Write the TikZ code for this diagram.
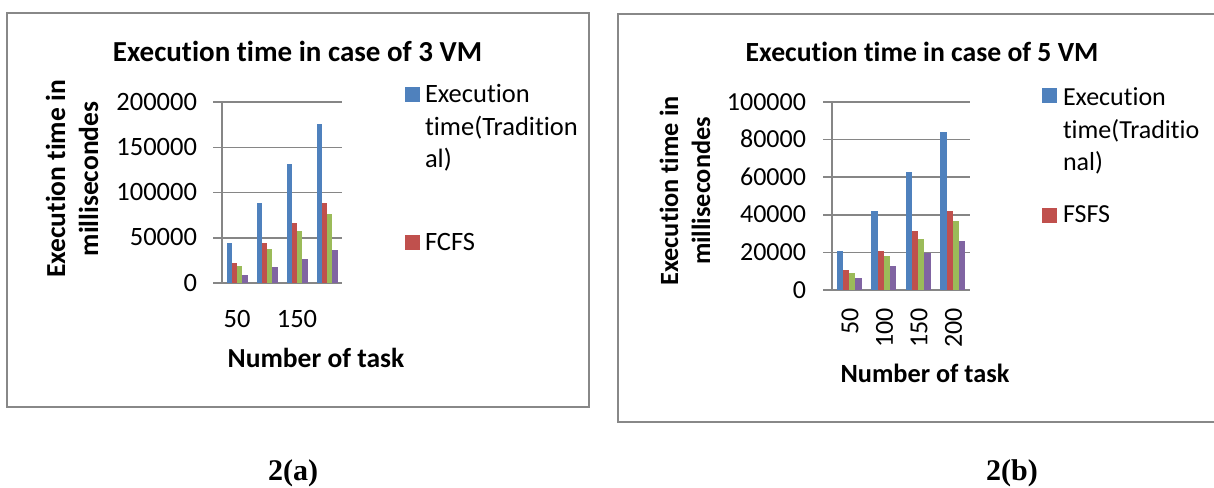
\documentclass[tikz,border=0pt]{standalone}
\usepackage{fontspec}
\setmainfont{Carlito}[RawFeature={-liga}]
\newfontfamily\capfont{Liberation Serif}
\definecolor{cblue}{HTML}{4F81BD}
\definecolor{cred}{HTML}{C0504D}
\definecolor{cgreen}{HTML}{9BBB59}
\definecolor{cpurple}{HTML}{8064A2}
\definecolor{cgrid}{HTML}{868686}
\definecolor{cframe}{HTML}{888888}
\begin{document}
\begin{tikzpicture}[x=1pt,y=-1pt,
  txt/.style={inner sep=0pt, outer sep=0pt},
  ttlA/.style={txt, font=\fontsize{29}{34}\selectfont\bfseries},
  ttlB/.style={txt, font=\fontsize{27.7}{33}\selectfont\bfseries},
  axA/.style={txt, font=\fontsize{27.5}{33}\selectfont\bfseries},
  axB/.style={txt, font=\fontsize{26.3}{32}\selectfont\bfseries},
  tickA/.style={txt, font=\fontsize{26.5}{32}\selectfont},
  tickB/.style={txt, font=\fontsize{26}{32}\selectfont},
  captxt/.style={txt, font=\fontsize{30}{36}\selectfont\capfont\bfseries},
  gridline/.style={cgrid, line width=1.5pt},
  framebox/.style={cframe, line width=1.8pt}
  ]
\useasboundingbox (0,0) rectangle (1214,487);
\fill[white] (0,0) rectangle (1214,487);

% ---------- Chart 2(a) ----------
\draw[framebox] (7,13) rectangle (589,407);
\foreach \k in {0,...,4} {
  \draw[gridline] (213,{283-45.25*\k}) -- (342,{283-45.25*\k});
}
\draw[gridline] (222,102) -- (222,283);
\foreach \s/\g/\v/\col in {0/0/44/cblue,0/1/88/cblue,0/2/132/cblue,0/3/176/cblue,
  1/0/22/cred,1/1/44/cred,1/2/66/cred,1/3/88/cred,
  2/0/19/cgreen,2/1/38/cgreen,2/2/57/cgreen,2/3/76/cgreen,
  3/0/9/cpurple,3/1/18/cpurple,3/2/27/cpurple,3/3/36/cpurple} {
  \fill[\col] ({222+30*\g+4.5+5.25*\s},283) rectangle ++(5.25,{-\v*0.905});
}
\node[ttlA, anchor=base] (tA) at (297.5,61) {Execution time in case of 3 VM};
\node[tickA, anchor=base east] (ya0) at (197,291) {0};
\node[tickA, anchor=base east] (ya1) at (197,245.75) {50000};
\node[tickA, anchor=base east] (ya2) at (197,200.5) {100000};
\node[tickA, anchor=base east] (ya3) at (197,155.25) {150000};
\node[tickA, anchor=base east] (ya4) at (197,110) {200000};
\node[tickA, anchor=base] (xa1) at (237,327) {50};
\node[tickA, anchor=base] (xa3) at (297,327) {150};
\node[axA, anchor=base] (xta) at (316,367) {Number of task};
\node[axA, rotate=90, align=center] (yta) at (72,179) {Execution time in\\millisecondes};
\fill[cblue] (405,87) rectangle (420,102);
\node[tickA, anchor=base west] (la1) at (425,102) {Execution};
\node[tickA, anchor=base west] (la2) at (425,135) {time(Tradition};
\node[tickA, anchor=base west] (la3) at (425,167) {al)};
\fill[cred] (405,235) rectangle (420,250);
\node[tickA, anchor=base west] (la4) at (425,250) {FCFS};

% ---------- Chart 2(b) ----------
\draw[framebox] (1216,14) -- (618,14) -- (618,422) -- (1216,422);
\foreach \k in {0,...,5} {
  \draw[gridline] (823,{290-37.6*\k}) -- (970,{290-37.6*\k});
}
\draw[gridline] (832,102) -- (832,290);
\foreach \s/\g/\v/\col in {0/0/21/cblue,0/1/42/cblue,0/2/63/cblue,0/3/84/cblue,
  1/0/10.5/cred,1/1/21/cred,1/2/31.5/cred,1/3/42/cred,
  2/0/9/cgreen,2/1/18/cgreen,2/2/27/cgreen,2/3/36.5/cgreen,
  3/0/6.5/cpurple,3/1/13/cpurple,3/2/19.5/cpurple,3/3/26/cpurple} {
  \fill[\col] ({832+34.5*\g+4.85+6.2*\s},290) rectangle ++(6.2,{-\v*1.88});
}
\node[ttlB, anchor=base] (tB) at (922,61) {Execution time in case of 5 VM};
\node[tickB, anchor=base east] (yb0) at (806,298) {0};
\node[tickB, anchor=base east] (yb1) at (806,260.4) {20000};
\node[tickB, anchor=base east] (yb2) at (806,222.8) {40000};
\node[tickB, anchor=base east] (yb3) at (806,185.2) {60000};
\node[tickB, anchor=base east] (yb4) at (806,147.6) {80000};
\node[tickB, anchor=base east] (yb5) at (806,110) {100000};
\node[tickB, rotate=90, anchor=east] (xb1) at (850,308) {50};
\node[tickB, rotate=90, anchor=east] (xb2) at (884.5,308) {100};
\node[tickB, rotate=90, anchor=east] (xb3) at (919,308) {150};
\node[tickB, rotate=90, anchor=east] (xb4) at (953.5,308) {200};
\node[axB, anchor=base] (xtb) at (925,382) {Number of task};
\node[axB, rotate=90, align=center] (ytb) at (685,191) {Execution time in\\millisecondes};
\fill[cblue] (1042,88) rectangle (1057,103);
\node[tickB, anchor=base west] (lb1) at (1063,105) {Execution};
\node[tickB, anchor=base west] (lb2) at (1063,138) {time(Traditio};
\node[tickB, anchor=base west] (lb3) at (1063,170) {nal)};
\fill[cred] (1042,208) rectangle (1057,223);
\node[tickB, anchor=base west] (lb4) at (1063,222) {FSFS};

% ---------- Captions ----------
\node[captxt, anchor=base] (ca) at (293,480) {2(a)};
\node[captxt, anchor=base] (cb) at (1012,480) {2(b)};
\end{tikzpicture}
\end{document}
